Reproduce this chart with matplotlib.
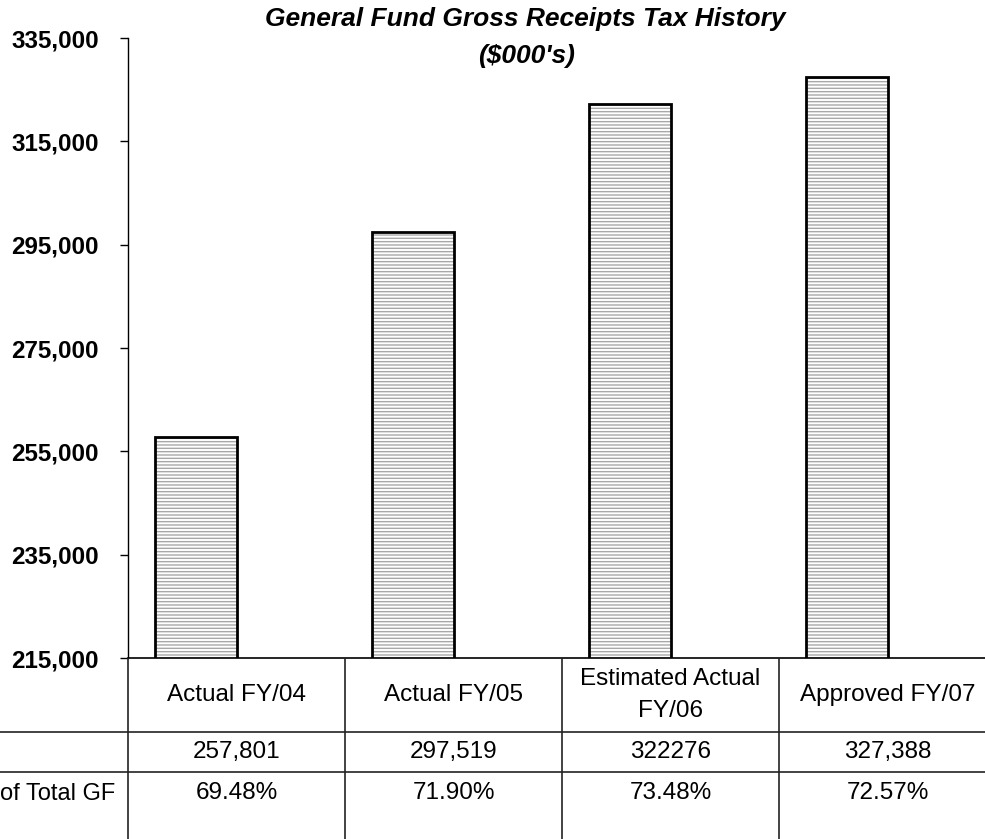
import matplotlib.pyplot as plt

plt.rcParams['font.family'] = ['Liberation Sans', 'DejaVu Sans']
plt.rcParams['hatch.linewidth'] = 1.0

# data
categories = ['Actual FY/04', 'Actual FY/05', 'Estimated Actual\nFY/06', 'Approved FY/07']
receipts = [257801, 297519, 322276, 327388]
receipt_labels = ['257,801', '297,519', '322276', '327,388']
pct_of_gf = ['69.48%', '71.90%', '73.48%', '72.57%']
row_labels = ['', 'of Total GF']  # left part of the label is cropped in the source
yticks = list(range(215000, 335001, 20000))

W, H = 985, 839
fig = plt.figure(figsize=(W / 100, H / 100), dpi=100)

# main axes: columns are 217 px wide, starting at x=128
col_w = 217
ax_left, ax_bottom, ax_top = 128, 658, 38
ax = fig.add_axes([ax_left / W, (H - ax_bottom) / H, 4 * col_w / W, (ax_bottom - ax_top) / H])

xs = [i + 68 / col_w for i in range(len(receipts))]
bw = 82 / col_w
ax.bar(xs, receipts, width=bw, color='white', edgecolor='#a8a8a8', hatch='-----', linewidth=0)
ax.bar(xs, receipts, width=bw, fill=False, edgecolor='black', linewidth=2)

ax.set_xlim(0, 4)
ax.set_ylim(215000, 335000)
ax.set_yticks(yticks)
ax.set_yticklabels([f'{v:,}' for v in yticks], fontsize=17.4, fontweight='bold')
ax.tick_params(axis='y', direction='out', length=6, width=1, pad=15)
ax.set_xticks([])
for s in ['top', 'right']:
    ax.spines[s].set_visible(False)
ax.spines['left'].set_linewidth(1)
ax.spines['bottom'].set_linewidth(1.2)

fig.text(525 / W, 1 - 19 / H, "General Fund Gross Receipts Tax History",
         ha='center', va='center', fontsize=19, fontweight='bold', style='italic')
fig.text(526 / W, 1 - 56 / H, "($000's)",
         ha='center', va='center', fontsize=19, fontweight='bold', style='italic')

# data table underneath
tab = fig.add_axes([0, 0, 1, (H - ax_bottom) / H])
tab.set_xlim(0, W)
tab.set_ylim(H, ax_bottom)
tab.axis('off')

row_lines = [732, 772]
for y in row_lines:
    tab.plot([0, W], [y, y], color='#222222', lw=1.2)
for i in range(5):
    x = ax_left + i * col_w
    tab.plot([x, x], [ax_bottom, H], color='#222222', lw=1.2)

for i, cat in enumerate(categories):
    cx = ax_left + (i + 0.5) * col_w
    tab.text(cx, 695, cat, ha='center', va='center', fontsize=17.5, linespacing=1.55)
    tab.text(cx, 752, receipt_labels[i], ha='center', va='center', fontsize=17.5)
    tab.text(cx, 793, pct_of_gf[i], ha='center', va='center', fontsize=17.5)

tab.text(115, 752, row_labels[0], ha='right', va='center', fontsize=17)
tab.text(115, 794, row_labels[1], ha='right', va='center', fontsize=17)

fig.savefig('out.png', dpi=100)
